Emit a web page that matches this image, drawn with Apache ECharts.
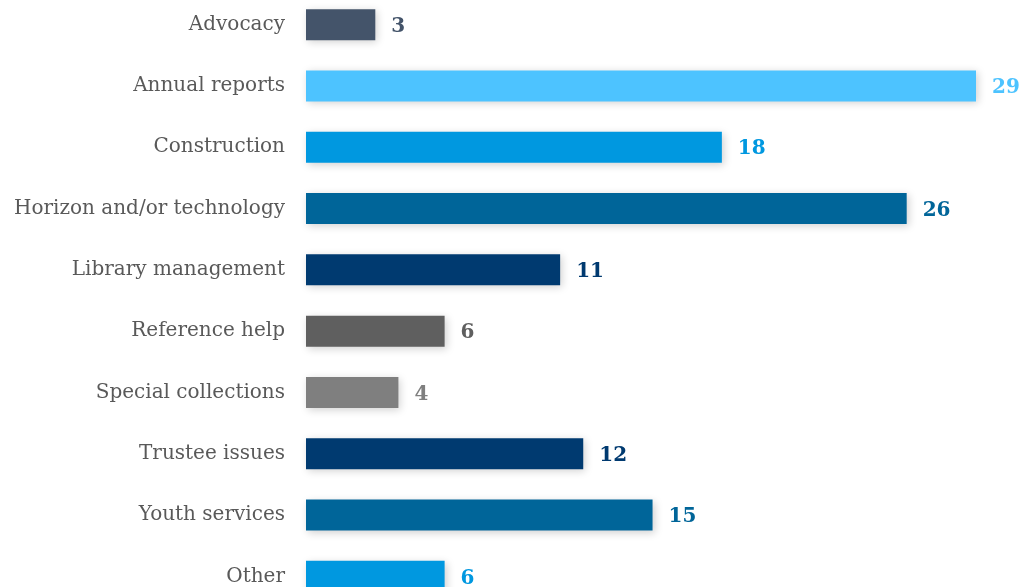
<!DOCTYPE html>
<html>
<head>
<meta charset="utf-8">
<script src="https://cdn.jsdelivr.net/npm/echarts@6/dist/echarts.min.js"></script>
<style>
  html, body { margin: 0; padding: 0; background: #fff; overflow: hidden; }
  body { width: 1021px; height: 587px; position: relative; }
  /* the last row runs past the bottom edge, so the plot is taller than the page */
  #chart { position: absolute; left: 0; top: -6px; width: 1021px; height: 613px; }
</style>
</head>
<body>
<div id="chart"></div>
<script>
// Topics, top to bottom
const categories = [
  'Advocacy', 'Annual reports', 'Construction', 'Horizon and/or technology',
  'Library management', 'Reference help', 'Special collections',
  'Trustee issues', 'Youth services', 'Other'
];
const counts = [3, 29, 18, 26, 11, 6, 4, 12, 15, 6];
const barColors = [
  '#44546A', '#4DC3FF', '#0098E0', '#006599', '#003A70',
  '#5F5F5F', '#7F7F7F', '#003A70', '#006599', '#0098E0'
];

const chart = echarts.init(document.getElementById('chart'), null, { renderer: 'canvas' });

chart.setOption({
  animation: false,
  grid: { left: 306, right: 45, top: 0, bottom: 0, containLabel: false },
  xAxis: {
    type: 'value', min: 0, max: 29,
    show: false
  },
  yAxis: {
    type: 'category',
    data: categories,
    inverse: true,
    axisLine: { show: false },
    axisTick: { show: false },
    axisLabel: {
      margin: 21,
      padding: [3, 0, 0, 0],
      fontFamily: 'DejaVu Serif',
      fontSize: 20,
      color: '#595959'
    }
  },
  series: [{
    type: 'bar',
    barWidth: 31,
    data: counts.map((v, i) => ({
      value: v,
      itemStyle: {
        color: barColors[i],
        shadowColor: 'rgba(0,0,0,0.18)',
        shadowBlur: 8,
        shadowOffsetX: 2,
        shadowOffsetY: 2
      },
      label: { color: barColors[i] }
    })),
    label: {
      show: true,
      position: 'right',
      distance: 16,
      offset: [0, 2],
      fontFamily: 'DejaVu Serif',
      fontWeight: 'bold',
      fontSize: 20
    }
  }]
});
</script>
</body>
</html>
